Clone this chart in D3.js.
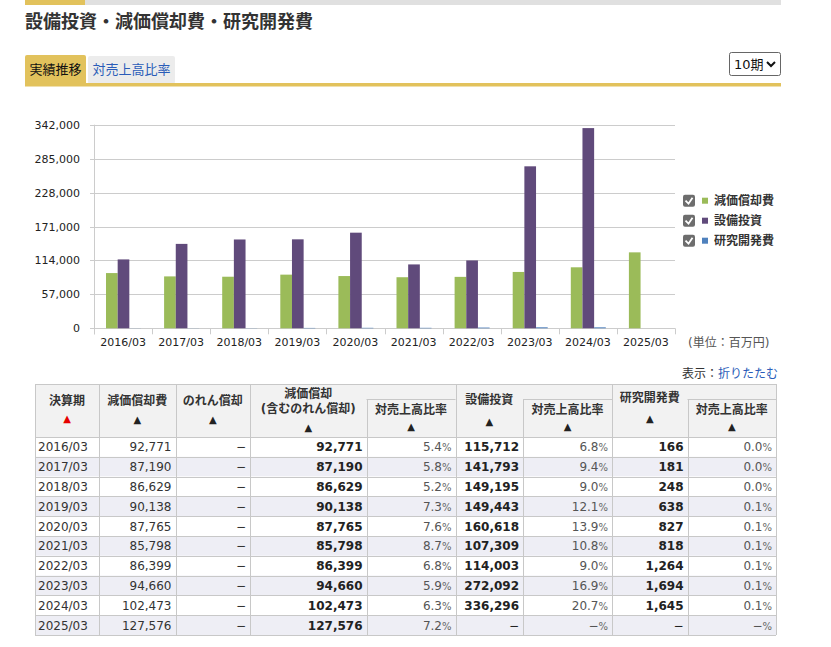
<!DOCTYPE html>
<html>
<head>
<meta charset="utf-8">
<script src="https://cdn.jsdelivr.net/npm/d3@7"></script>
<style>
  body { margin: 0; background: #fff; }
  svg text { font-family: "DejaVu Sans", "Noto Sans CJK JP", sans-serif; }
</style>
</head>
<body>
<div id="page"></div>
<script>
var periods = ["2016/03", "2017/03", "2018/03", "2019/03", "2020/03", "2021/03", "2022/03", "2023/03", "2024/03", "2025/03"];
var depreciation = [92771, 87190, 86629, 90138, 87765, 85798, 86399, 94660, 102473, 127576];
var goodwill = [null, null, null, null, null, null, null, null, null, null];
var depTotal = [92771, 87190, 86629, 90138, 87765, 85798, 86399, 94660, 102473, 127576];
var depRatio = [5.4, 5.8, 5.2, 7.3, 7.6, 8.7, 6.8, 5.9, 6.3, 7.2];
var capex = [115712, 141793, 149195, 149443, 160618, 107309, 114003, 272092, 336296, null];
var capexRatio = [6.8, 9.4, 9.0, 12.1, 13.9, 10.8, 9.0, 16.9, 20.7, null];
var rnd = [166, 181, 248, 638, 827, 818, 1264, 1694, 1645, null];
var rndRatio = [0.0, 0.0, 0.0, 0.1, 0.1, 0.1, 0.1, 0.1, 0.1, null];
var yTicks = [0, 57000, 114000, 171000, 228000, 285000, 342000];

var seriesNames = ["減価償却費", "設備投資", "研究開発費"];
var seriesColors = ["#9bbb59", "#604a7b", "#4f81bd"];
var seriesValues = [depreciation, capex, rnd];

var W = 831, H = 647;
var svg = d3.select("#page").append("svg")
    .attr("width", W)
    .attr("height", H);

// header bar + title
svg.append("rect").attr("x", 25).attr("y", 0).attr("width", 756).attr("height", 5).attr("fill", "#e0e0e0");
svg.append("rect").attr("x", 25).attr("y", 0).attr("width", 60).attr("height", 5).attr("fill", "#e2c25c");
svg.append("text")
    .text("設備投資・減価償却費・研究開発費")
    .attr("x", 25).attr("y", 27.5)
    .attr("font-size", 18).attr("font-weight", "bold")
    .attr("fill", "#333");

// tabs
svg.append("rect").attr("x", 25).attr("y", 55).attr("width", 61).attr("height", 30).attr("rx", 2).attr("fill", "#e2c25c");
svg.append("text").text("実績推移").attr("x", 55.5).attr("y", 73.5)
    .attr("text-anchor", "middle").attr("font-size", 13).attr("fill", "#111");
svg.append("rect").attr("x", 88).attr("y", 56).attr("width", 87).attr("height", 28).attr("rx", 2).attr("fill", "#ececec");
svg.append("text").text("対売上高比率").attr("x", 131.5).attr("y", 73.5)
    .attr("text-anchor", "middle").attr("font-size", 13).attr("fill", "#2a5cb8");
svg.append("rect").attr("x", 25).attr("y", 83).attr("width", 756).attr("height", 3.5).attr("fill", "#e2c25c");

// period select
svg.append("rect").attr("x", 729.5).attr("y", 52.5).attr("width", 51).attr("height", 23).attr("rx", 2)
    .attr("fill", "#fff").attr("stroke", "#666");
svg.append("text").text("10期").attr("x", 734).attr("y", 68.5).attr("font-size", 13).attr("fill", "#111");
svg.append("path").attr("d", "M767,62 L771,66 L775,62").attr("fill", "none")
    .attr("stroke", "#111").attr("stroke-width", 2);

// ---- chart ----
var plotLeft = 94, plotRight = 675, plotTop = 124.7, plotBottom = 328.3;
var x0 = d3.scaleBand().domain(periods).range([plotLeft, plotRight]);
var x1 = d3.scaleBand().domain(seriesNames).range([0, 35]);
var y = d3.scaleLinear().domain([0, 342000]).range([plotBottom, plotTop]);
var groupOff = 12;

var chart = svg.append("g");

chart.selectAll("line.grid").data(yTicks).enter().append("line")
    .attr("class", "grid")
    .attr("x1", plotLeft - 4).attr("x2", plotRight)
    .attr("y1", function(d) { return Math.round(y(d)) + 0.5; })
    .attr("y2", function(d) { return Math.round(y(d)) + 0.5; })
    .attr("stroke", "#cccccc");

chart.selectAll("text.ytick").data(yTicks).enter().append("text")
    .attr("class", "ytick")
    .attr("x", plotLeft - 14).attr("y", function(d) { return y(d) + 4; })
    .attr("text-anchor", "end").attr("font-size", 11).attr("fill", "#222")
    .text(function(d) { return d3.format(",")(d); });

chart.append("line").attr("x1", plotLeft + 0.5).attr("x2", plotLeft + 0.5)
    .attr("y1", plotTop).attr("y2", plotBottom + 6).attr("stroke", "#cccccc");

var bounds = periods.map(function(p) { return x0(p); }).concat([plotRight]);
chart.selectAll("line.xtick").data(bounds).enter().append("line")
    .attr("class", "xtick")
    .attr("x1", function(d) { return Math.round(d) + 0.5; })
    .attr("x2", function(d) { return Math.round(d) + 0.5; })
    .attr("y1", plotBottom).attr("y2", plotBottom + 6)
    .attr("stroke", "#cccccc");

chart.selectAll("text.xlab").data(periods).enter().append("text")
    .attr("class", "xlab")
    .attr("x", function(d) { return x0(d) + x0.bandwidth() / 2; })
    .attr("y", plotBottom + 18)
    .attr("text-anchor", "middle").attr("font-size", 11).attr("fill", "#222")
    .text(function(d) { return d; });

seriesNames.forEach(function(name, si) {
    var vals = seriesValues[si];
    chart.selectAll("rect.s" + si)
        .data(periods.map(function(p, i) { return {p: p, v: vals[i]}; })
            .filter(function(d) { return d.v != null; }))
        .enter().append("rect")
        .attr("class", "s" + si)
        .attr("x", function(d) { return x0(d.p) + groupOff + x1(name); })
        .attr("width", x1.bandwidth())
        .attr("y", function(d) { return y(d.v); })
        .attr("height", function(d) { return plotBottom - y(d.v); })
        .attr("fill", seriesColors[si]);
});

// legend
var legend = svg.append("g");
seriesNames.forEach(function(name, i) {
    var cy = 200.7 + i * 20;
    legend.append("rect").attr("x", 683).attr("y", cy - 6).attr("width", 12).attr("height", 12)
        .attr("rx", 2).attr("fill", "#6d6d6d");
    legend.append("path").attr("d", "M685.5," + cy + " L688.5," + (cy + 3) + " L692.5," + (cy - 3))
        .attr("fill", "none").attr("stroke", "#fff").attr("stroke-width", 1.8);
    legend.append("rect").attr("x", 702).attr("y", cy - 3).attr("width", 6).attr("height", 6)
        .attr("fill", seriesColors[i]);
    legend.append("text").text(name).attr("x", 714).attr("y", cy + 4.5)
        .attr("font-size", 12).attr("font-weight", "bold").attr("fill", "#333");
});

svg.append("text").text("(単位：百万円)").attr("x", 688).attr("y", 347)
    .attr("font-size", 12).attr("fill", "#555");
var disp = svg.append("text").attr("x", 682).attr("y", 378).attr("font-size", 12);
disp.append("tspan").text("表示：").attr("fill", "#333");
disp.append("tspan").text("折りたたむ").attr("fill", "#2a5cb8");

// ---- table ----
var colEdges = [35, 99, 175.5, 250, 366.5, 455.5, 523, 612, 687.5, 776];
var tTop = 384, hBottom = 437, rowH = 19.8, subY = 399;
var tBottom = hBottom + rowH * periods.length;
var tbl = svg.append("g");

tbl.append("rect").attr("x", colEdges[0]).attr("y", tTop)
    .attr("width", colEdges[9] - colEdges[0]).attr("height", hBottom - tTop).attr("fill", "#f2f2f2");

periods.forEach(function(p, i) {
    tbl.append("rect").attr("x", colEdges[0]).attr("y", hBottom + i * rowH)
        .attr("width", colEdges[9] - colEdges[0]).attr("height", rowH)
        .attr("fill", i % 2 === 1 ? "#eeeef5" : "#ffffff");
});

var bc = "#c8c8c8";
// horizontal lines
[tTop, hBottom].concat(periods.map(function(p, i) { return hBottom + (i + 1) * rowH; }))
    .forEach(function(yy) {
        tbl.append("line").attr("x1", colEdges[0]).attr("x2", colEdges[9])
            .attr("y1", Math.round(yy) + 0.5).attr("y2", Math.round(yy) + 0.5).attr("stroke", bc);
    });
[[4, 5], [6, 7], [8, 9]].forEach(function(c) {
    tbl.append("line").attr("x1", colEdges[c[0]]).attr("x2", colEdges[c[1]])
        .attr("y1", subY + 0.5).attr("y2", subY + 0.5).attr("stroke", bc);
});
// vertical lines
colEdges.forEach(function(xx, i) {
    var y1 = (i === 4 || i === 6 || i === 8) ? subY : tTop;
    tbl.append("line").attr("x1", Math.round(xx) + 0.5).attr("x2", Math.round(xx) + 0.5)
        .attr("y1", y1).attr("y2", tBottom).attr("stroke", bc);
});

function mid(i) { return (colEdges[i] + colEdges[i + 1]) / 2; }
var headers = [
    {col: 0, lines: [["決算期", 405]], tri: 422, red: true},
    {col: 1, lines: [["減価償却費", 405]], tri: 423},
    {col: 2, lines: [["のれん償却", 405]], tri: 423},
    {col: 3, lines: [["減価償却", 398], ["(含むのれん償却)", 413]], tri: 431},
    {col: 4, lines: [["対売上高比率", 414]], tri: 430},
    {col: 5, lines: [["設備投資", 404]], tri: 425},
    {col: 6, lines: [["対売上高比率", 414]], tri: 430},
    {col: 7, lines: [["研究開発費", 402]], tri: 422},
    {col: 8, lines: [["対売上高比率", 414]], tri: 430}
];
headers.forEach(function(h) {
    h.lines.forEach(function(l) {
        tbl.append("text").text(l[0]).attr("x", mid(h.col)).attr("y", l[1])
            .attr("text-anchor", "middle").attr("font-size", 12).attr("font-weight", "bold")
            .attr("fill", "#333");
    });
    tbl.append("text").text("▲").attr("x", mid(h.col)).attr("y", h.tri)
        .attr("text-anchor", "middle").attr("font-size", 10)
        .attr("fill", h.red ? "#e60000" : "#222");
});

var fmt = d3.format(",");
function num(v) { return v == null ? "−" : fmt(v); }
var columns = [
    {vals: depreciation, kind: "num"},
    {vals: goodwill, kind: "num"},
    {vals: depTotal, kind: "num", bold: true},
    {vals: depRatio, kind: "pct"},
    {vals: capex, kind: "num", bold: true},
    {vals: capexRatio, kind: "pct"},
    {vals: rnd, kind: "num", bold: true},
    {vals: rndRatio, kind: "pct"}
];

periods.forEach(function(p, i) {
    var ty = hBottom + i * rowH + rowH / 2 + 4.5;
    tbl.append("text").text(p).attr("x", colEdges[0] + 3).attr("y", ty)
        .attr("font-size", 12).attr("fill", "#333");
    columns.forEach(function(c, ci) {
        var v = c.vals[i];
        var t = tbl.append("text").attr("x", colEdges[ci + 2] - 4).attr("y", ty)
            .attr("text-anchor", "end").attr("font-size", 12);
        if (c.kind === "pct") {
            t.append("tspan").text(v == null ? "−" : v.toFixed(1)).attr("fill", "#555");
            t.append("tspan").text("%").attr("font-size", 10).attr("fill", "#666");
        } else {
            t.text(num(v)).attr("fill", c.bold ? "#222" : "#333")
                .attr("font-weight", c.bold && v != null ? "bold" : "normal");
        }
    });
});
</script>
</body>
</html>
